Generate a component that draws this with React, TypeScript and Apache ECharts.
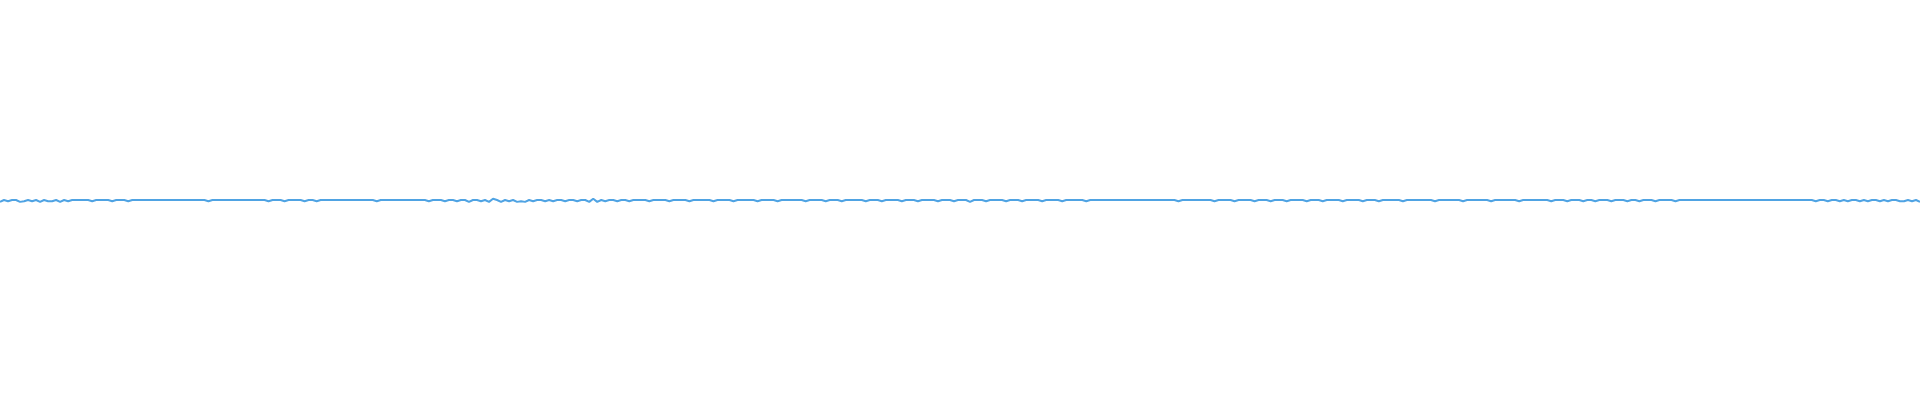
import React, { useEffect, useRef } from "react";
import * as echarts from "echarts";

// Sparkline values (small deviations from a flat baseline)
const values: number[] = [
  -3, 0, -2, 0, 0, -3, -2, 0, -2, 0, -3, 0, -2, -2, 0, -3, 0, -2, 0, 0,
  0, 0, 0, -2, 0, 0, 0, 0, -2, 0, 0, 0, -2, 0, 0, 0, 0, 0, 0, 0,
  0, 0, 0, 0, 0, 0, 0, 0, 0, 0, 0, 0, -2, 0, 0, 0, 0, 0, 0, 0,
  0, 0, 0, 0, 0, 0, 0, -2, 0, 0, 0, -2, 0, 0, 0, 0, -2, 0, 0, -2,
  0, 0, 0, 0, 0, 0, 0, 0, 0, 0, 0, 0, 0, 0, -2, 0, 0, 0, 0, 0,
  0, 0, 0, 0, 0, 0, 0, -2, 0, 0, 0, -2, 0, 0, -2, 0, 0, -3, 0, 0,
  -2, 0, -3, 2, 0, -3, 0, -2, 0, -3, -2, -3, 0, -2, 0, 0, -2, 0, -2, 0,
  0, -2, 0, 0, -2, 0, 0, -3, 2, -3, 0, -2, 0, 0, -2, 0, 0, -2, 0, 0,
  0, 0, -2, 0, 0, 0, 0, -2, 0, 0, 0, 0, -2, 0, 0, 0, 0, 0, -2, 0,
  0, 0, 0, -2, 0, 0, 0, 0, 0, -2, 0, 0, 0, 0, -2, 0, 0, 0, 0, 0,
  0, -2, 0, 0, 0, 0, -2, 0, 0, 0, -2, 0, 0, 0, 0, 0, -2, 0, 0, 0,
  -2, 0, 0, 0, 0, -2, 0, 0, 0, -2, 0, 0, 0, 0, -2, 0, 0, 0, -2, 0,
  0, 0, -3, 0, 0, 0, -2, 0, 0, 0, 0, -2, 0, 0, 0, -2, 0, 0, 0, 0,
  -2, 0, 0, 0, 0, -2, 0, 0, 0, 0, 0, -2, 0, 0, 0, 0, 0, 0, 0, 0,
  0, 0, 0, 0, 0, 0, 0, 0, 0, 0, 0, 0, 0, 0, -2, 0, 0, 0, 0, 0,
  0, 0, 0, -2, 0, 0, 0, 0, -2, 0, 0, 0, 0, -2, 0, 0, 0, -2, 0, 0,
  0, -2, 0, 0, 0, 0, -2, 0, 0, 0, -2, 0, 0, 0, 0, -2, 0, 0, 0, 0,
  -2, 0, 0, 0, -2, 0, 0, 0, 0, 0, -2, 0, 0, 0, 0, 0, 0, 0, -2, 0,
  0, 0, 0, 0, 0, -2, 0, 0, 0, 0, 0, 0, -2, 0, 0, 0, 0, 0, 0, -2,
  0, 0, 0, 0, 0, 0, 0, -2, 0, 0, 0, -2, 0, 0, 0, -2, 0, 0, -2, 0,
  0, 0, -2, 0, 0, 0, -2, 0, 0, -2, 0, 0, 0, -2, 0, 0, 0, 0, -2, 0,
  0, 0, 0, 0, 0, 0, 0, 0, 0, 0, 0, 0, 0, 0, 0, 0, 0, 0, 0, 0,
  0, 0, 0, 0, 0, 0, 0, 0, 0, 0, 0, 0, 0, -2, 0, 0, -2, 0, 0, -2,
  0, -2, 0, 0, -2, 0, -2, 0, 0, -2, 0, -2, 0, 0, -2, -2, 0, -2, 0, -3,
];
const categories: string[] = values.map((_, i) => String(i));

export default function App() {
  const ref = useRef<HTMLDivElement>(null);
  useEffect(() => {
    if (!ref.current) return;
    const chart = echarts.init(ref.current, undefined, { renderer: "svg" });
    chart.setOption({
      animation: false,
      grid: { left: 0, right: 0, top: 0, bottom: 0 },
      xAxis: {
        type: "category",
        data: categories,
        boundaryGap: false,
        show: false,
      },
      yAxis: { type: "value", min: -320, max: 320, show: false },
      series: [
        {
          type: "line",
          data: values,
          symbol: "none",
          lineStyle: { color: "#4fa3e3", width: 2 },
        },
      ],
    });
    return () => chart.dispose();
  }, []);
  return (
    <div
      ref={ref}
      style={{ position: "absolute", left: 0, top: 0, width: 1920, height: 400 }}
    />
  );
}
